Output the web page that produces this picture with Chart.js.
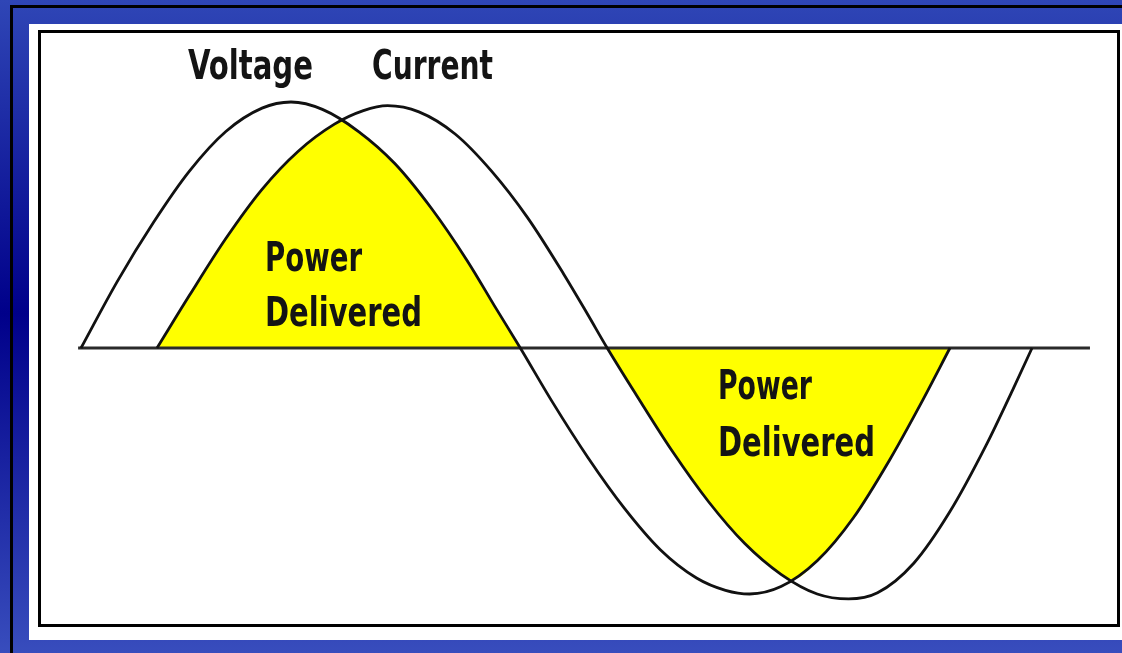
<!DOCTYPE html>
<html lang="en">
<head>
    <meta charset="UTF-8">
    <title>Voltage and Current - Power Delivered</title>
    <script src="https://cdn.jsdelivr.net/npm/chart.js"></script>
    <style>
        html, body {
            margin: 0;
            padding: 0;
        }
        body {
            width: 1122px;
            height: 653px;
            position: relative;
            overflow: hidden;
            background: linear-gradient(to bottom, #2f46b6 0%, #00008a 48%, #384dbd 100%);
        }
        .rule {
            position: absolute;
            background: #000;
        }
        .panel {
            position: absolute;
            left: 29px;
            top: 24px;
            width: 1093px;
            height: 616px;
            background: #fff;
        }
        .frame {
            position: absolute;
            left: 38px;
            top: 30px;
            width: 1076px;
            height: 591px;
            border: 3px solid #000;
        }
        #waveChart {
            position: absolute;
            left: 41px;
            top: 33px;
        }
        .label {
            position: absolute;
            font-family: "Liberation Sans Narrow", "DejaVu Sans Condensed", sans-serif;
            font-weight: bold;
            font-size: 41px;
            line-height: 1;
            color: #141414;
            white-space: nowrap;
            transform-origin: 0 0;
        }
    </style>
</head>
<body>
    <div class="rule" style="left:10px; top:5px; width:3px; height:648px;"></div>
    <div class="rule" style="left:10px; top:5px; width:1112px; height:3px;"></div>
    <div class="panel"></div>
    <div class="frame"></div>
    <canvas id="waveChart" width="1076" height="591"></canvas>

    <div class="label" data-w="125" style="left:188px; top:45px;">Voltage</div>
    <div class="label" data-w="121" style="left:372px; top:45px;">Current</div>
    <div class="label" data-w="97" style="left:265px; top:237px;">Power</div>
    <div class="label" data-w="157" style="left:265px; top:292px;">Delivered</div>
    <div class="label" data-w="94" style="left:718px; top:365px;">Power</div>
    <div class="label" data-w="157" style="left:718px; top:422px;">Delivered</div>

    <script>
        // phase in degrees, amplitude relative to the voltage peak
        const voltageDeg = [0, 15, 30, 45, 60, 75, 87, 100, 115, 130, 145, 160, 172, 182, 195, 210, 225, 240, 255, 267, 277, 290, 305, 320, 335, 348, 360];
        const voltageVal = [0, 0.27, 0.51, 0.72, 0.88, 0.975, 1.0, 0.97, 0.88, 0.75, 0.57, 0.355, 0.16, 0, -0.215, -0.445, -0.65, -0.82, -0.935, -0.985, -1.0, -0.97, -0.865, -0.69, -0.455, -0.225, 0];

        const currentDeg = [31.5, 45, 60, 75, 90, 105, 117, 127, 140, 155, 170, 185, 200, 210, 218, 230, 245, 260, 275, 290, 305, 318, 330, 345, 360, 375, 386, 394];
        const currentVal = [0, 0.215, 0.445, 0.645, 0.8, 0.91, 0.965, 0.985, 0.96, 0.87, 0.72, 0.53, 0.3, 0.135, 0, -0.19, -0.42, -0.625, -0.795, -0.92, -1.0, -1.02, -0.995, -0.875, -0.665, -0.395, -0.17, 0];

        // yellow areas: where voltage and current have the same sign
        const power1Deg = [31.5, 45, 60, 75, 90, 105, 108, 115, 130, 145, 160, 172, 182];
        const power1Val = [0, 0.215, 0.445, 0.645, 0.8, 0.91, 0.925, 0.88, 0.75, 0.57, 0.355, 0.16, 0];
        const power2Deg = [218, 230, 245, 260, 275, 290, 295, 305, 320, 335, 348, 360];
        const power2Val = [0, -0.19, -0.42, -0.625, -0.795, -0.92, -0.94, -0.865, -0.69, -0.455, -0.225, 0];

        const axisDeg = [-1.2, 418];
        const axisVal = [0, 0];

        function toPoints(xs, ys) {
            return xs.map((x, i) => ({ x: x, y: ys[i] }));
        }

        const lineStyle = {
            borderColor: '#111',
            borderWidth: 2.8,
            pointRadius: 0,
            fill: false,
            tension: 0.4,
            cubicInterpolationMode: 'monotone',
            order: 1
        };

        const fillStyle = {
            borderWidth: 0,
            borderColor: 'rgba(0,0,0,0)',
            backgroundColor: '#ffff00',
            pointRadius: 0,
            fill: 'origin',
            tension: 0.4,
            cubicInterpolationMode: 'monotone',
            order: 3
        };

        new Chart(document.getElementById('waveChart'), {
            type: 'line',
            data: {
                datasets: [
                    Object.assign({ label: 'Voltage', data: toPoints(voltageDeg, voltageVal) }, lineStyle),
                    Object.assign({ label: 'Current', data: toPoints(currentDeg, currentVal) }, lineStyle),
                    Object.assign({ label: 'Axis', data: toPoints(axisDeg, axisVal) }, lineStyle, { borderColor: '#2a2a2a', borderWidth: 3, cubicInterpolationMode: 'default', tension: 0, order: 2 }),
                    Object.assign({ label: 'Power Delivered', data: toPoints(power1Deg, power1Val) }, fillStyle),
                    Object.assign({ label: 'Power Delivered 2', data: toPoints(power2Deg, power2Val) }, fillStyle)
                ]
            },
            options: {
                responsive: false,
                animation: false,
                layout: { padding: 0 },
                plugins: {
                    legend: { display: false },
                    tooltip: { enabled: false }
                },
                scales: {
                    x: { type: 'linear', min: -16.57, max: 429.2, display: false },
                    y: { min: -1.122, max: 1.2805, display: false }
                }
            }
        });

        // squeeze the labels to the narrow lettering of the original
        document.querySelectorAll('.label').forEach(el => {
            const w = el.getBoundingClientRect().width;
            el.style.transform = 'scaleX(' + (parseFloat(el.dataset.w) / w) + ')';
        });
    </script>
</body>
</html>
